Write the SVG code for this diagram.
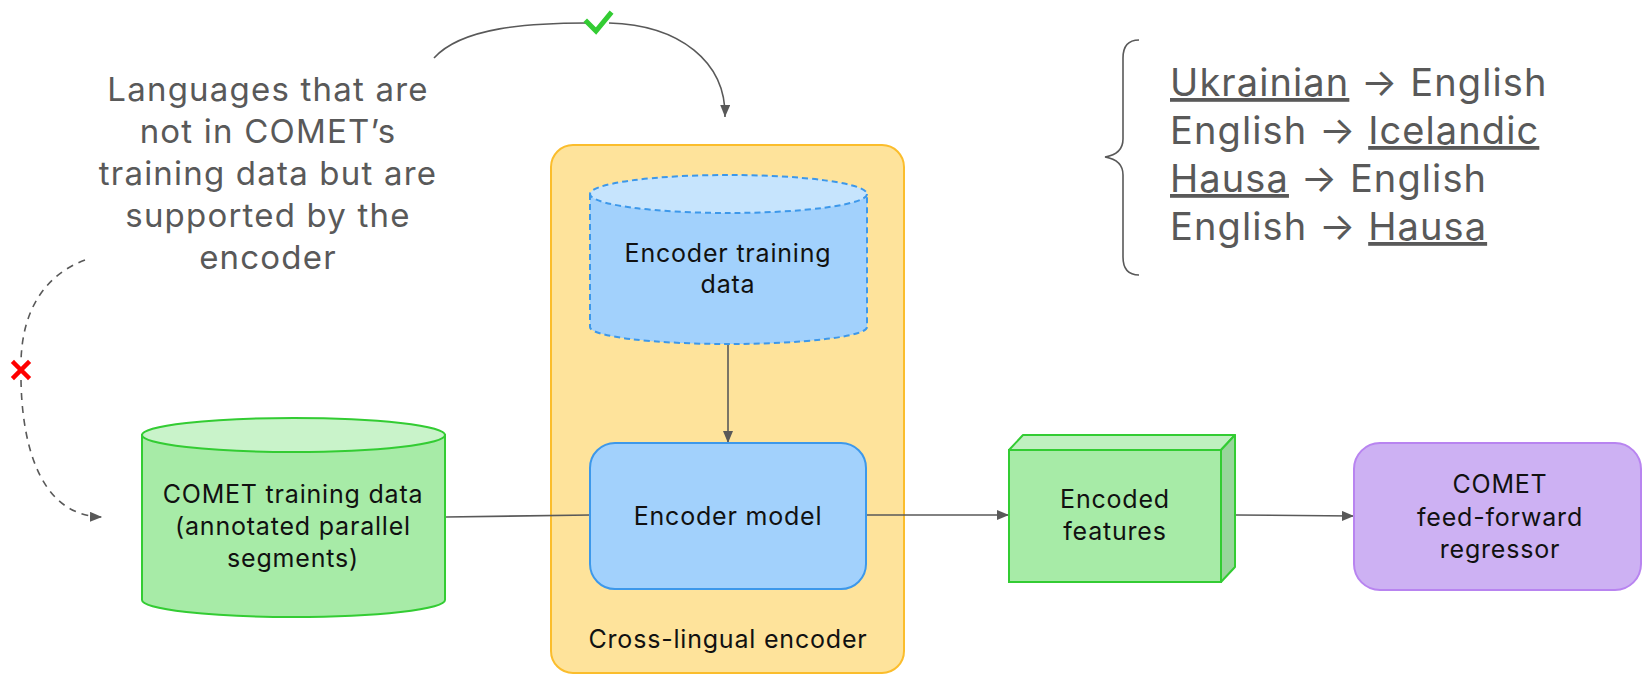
<svg xmlns="http://www.w3.org/2000/svg" width="1643" height="675" viewBox="0 0 1643 675">
<style>
.t{font-family:Inter,"Noto Sans","Liberation Sans",sans-serif;}
.node{font-size:25px;fill:#111;text-anchor:middle;letter-spacing:0.8px;}
.note{font-size:33px;fill:#595959;text-anchor:middle;letter-spacing:1.2px;}
.list{font-size:38px;fill:#595959;letter-spacing:1.1px;}
.u{text-decoration:underline;text-decoration-thickness:3px;}
.conn{fill:none;stroke:#595959;stroke-width:1.6;}
</style>
<defs>
<marker id="ah" markerUnits="userSpaceOnUse" markerWidth="12" markerHeight="10" refX="12" refY="5" orient="auto">
<path d="M0,0 L12,5 L0,10 z" fill="#595959"/>
</marker>
</defs>
<rect width="1643" height="675" fill="#fff"/>

<g id="container-encoder">
<rect x="551" y="145" width="353" height="528" rx="22" fill="#fee39b" stroke="#fbbd2c" stroke-width="2"/>
<text class="t node" x="728" y="648">Cross-lingual encoder</text>
</g>

<g id="connectors">
<path class="conn" d="M446,517 L590,515"/>
<path class="conn" d="M866,515 L1009,515" marker-end="url(#ah)"/>
<path class="conn" d="M1236,515 L1354,516" marker-end="url(#ah)"/>
<path class="conn" d="M728,344 L728,443" marker-end="url(#ah)"/>
<path class="conn" d="M434,58 C462,27 530,23 586,23"/>
<path class="conn" d="M609,23 C680,25 726,62 725,117" marker-end="url(#ah)"/>
<path class="conn" d="M85,260 C45,275 22,310 21,362 M21,380 C22,445 40,516 102,517" stroke-dasharray="7,6" marker-end="url(#ah)"/>
</g>

<g id="mark-check">
<path d="M587,22 L596,31 L610,14" fill="none" stroke="#33cc33" stroke-width="5" stroke-linecap="square"/>
</g>
<g id="mark-cross">
<path d="M14,363 L28,377 M28,363 L14,377" fill="none" stroke="#ff0000" stroke-width="4.5" stroke-linecap="square"/>
</g>

<g id="note-languages">
<text class="t note" x="268" y="101">Languages that are</text>
<text class="t note" x="268" y="143">not in COMET’s</text>
<text class="t note" x="268" y="185">training data but are</text>
<text class="t note" x="268" y="227">supported by the</text>
<text class="t note" x="268" y="269">encoder</text>
</g>

<g id="language-list">
<path d="M1139,40 Q1123,40 1123,58 L1123,139 Q1123,154 1105,157 Q1123,160 1123,175 L1123,257 Q1123,275 1139,275" fill="none" stroke="#595959" stroke-width="1.6"/>
<text class="t list" x="1170" y="96"><tspan class="u">Ukrainian</tspan> → English</text>
<text class="t list" x="1170" y="144">English → <tspan class="u">Icelandic</tspan></text>
<text class="t list" x="1170" y="192"><tspan class="u">Hausa</tspan> → English</text>
<text class="t list" x="1170" y="240">English → <tspan class="u">Hausa</tspan></text>
</g>

<g id="node-comet-data">
<path d="M142,435 L142,600 A151.5,17 0 0 0 445,600 L445,435 z" fill="#a7eba7" stroke="#33cc33" stroke-width="2"/>
<ellipse cx="293.5" cy="435" rx="151.5" ry="17" fill="#c9f3ca" stroke="#33cc33" stroke-width="2"/>
<text class="t node" x="293" y="503">COMET training data</text>
<text class="t node" x="293" y="535">(annotated parallel</text>
<text class="t node" x="293" y="567">segments)</text>
</g>

<g id="node-encoder-data">
<path d="M590,194 L590,327 A138.5,17 0 0 0 867,327 L867,194 z" fill="#a2d1fc" stroke="#3d98ea" stroke-width="2" stroke-dasharray="6,4"/>
<ellipse cx="728.5" cy="194" rx="138.5" ry="19" fill="#c6e4fd" stroke="#3d98ea" stroke-width="2" stroke-dasharray="6,4"/>
<text class="t node" x="728" y="262">Encoder training</text>
<text class="t node" x="728" y="293">data</text>
</g>

<g id="node-encoder-model">
<rect x="590" y="443" width="276" height="146" rx="25" fill="#a2d1fc" stroke="#3d98ea" stroke-width="2"/>
<text class="t node" x="728" y="525">Encoder model</text>
</g>

<g id="node-encoded-features">
<polygon points="1009,450 1023,435 1235,435 1221,450" fill="#bff0c0" stroke="#33cc33" stroke-width="2" stroke-linejoin="round"/>
<polygon points="1221,450 1235,435 1235,567 1221,582" fill="#98d69b" stroke="#33cc33" stroke-width="2" stroke-linejoin="round"/>
<rect x="1009" y="450" width="212" height="132" fill="#a7eba7" stroke="#33cc33" stroke-width="2"/>
<text class="t node" x="1115" y="508">Encoded</text>
<text class="t node" x="1115" y="540">features</text>
</g>

<g id="node-regressor">
<rect x="1354" y="443" width="287" height="147" rx="26" fill="#cdb1f3" stroke="#b884f0" stroke-width="2"/>
<text class="t node" x="1500" y="493">COMET</text>
<text class="t node" x="1500" y="526">feed-forward</text>
<text class="t node" x="1500" y="558">regressor</text>
</g>
</svg>
